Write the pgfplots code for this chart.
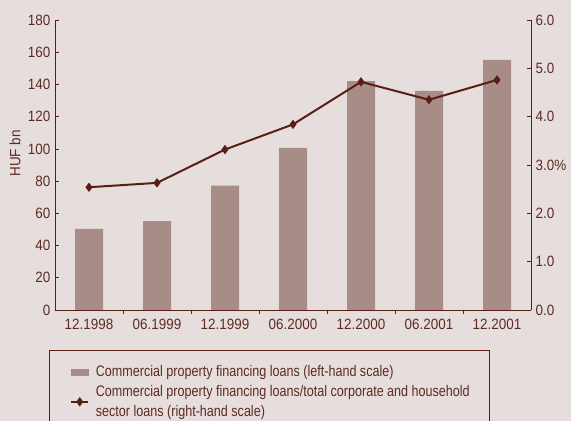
\documentclass[border=0pt]{standalone}
\usepackage{fontspec}
\setmainfont{Liberation Sans}[FakeStretch=0.9]
\newfontfamily\legfont{Liberation Sans}[FakeStretch=0.82]
\usepackage{pgfplots}
\pgfplotsset{compat=1.18}
\definecolor{bg}{HTML}{E6DEDD}
\definecolor{barc}{HTML}{A88C87}
\definecolor{linec}{HTML}{5B1E16}
\definecolor{txt}{HTML}{5E2B23}

\pgfplotsset{
  common/.style={
    at={(41.25pt,83.25pt)}, anchor=south west, scale only axis,
    width=357pt, height=217.5pt,
    xmin=-0.5, xmax=6.5,
    axis line style={linec, line width=0.6pt},
    tick style={linec, line width=0.5pt},
    major tick length=3pt, minor tick length=3pt,
    tick label style={text=txt, font=\fontsize{11.2}{13}\selectfont},
    /pgf/number format/assume math mode=true,
  },
  barlegend/.style={legend image code/.code={\fill[barc] (0pt,-2.25pt) rectangle (12.75pt,2.25pt);}},
  linelegend/.style={legend image code/.code={\draw[mark repeat=2,mark phase=2,##1] plot coordinates {(0pt,0pt)(6.4pt,0pt)(12.75pt,0pt)};}},
}

\begin{document}
\begin{tikzpicture}
\fill[bg] (0,0) rectangle (428.25pt,315.75pt);

\begin{axis}[common,
  ymin=0, ymax=180, ytick={0,20,...,180},
  axis x line*=bottom, axis y line*=left,
  xtick={0,...,6},
  xticklabels={12.1998,06.1999,12.1999,06.2000,12.2000,06.2001,12.2001},
  every major x tick/.style={draw=none},
  minor xtick={0.5,1.5,2.5,3.5,4.5,5.5},
  every minor x tick/.style={linec},
  ylabel={HUF bn},
  ylabel style={text=txt, font=\fontsize{11.2}{13}\selectfont, at={(axis description cs:-0.084,0.54)}, anchor=center},
  ybar, bar width=21pt,
]
\addplot[fill=barc, draw=none] coordinates {
  (0,50.3) (1,55.2) (2,77.2) (3,100.6) (4,142.1) (5,136.0) (6,155.2)
};
\end{axis}

\begin{axis}[common,
  ymin=0, ymax=6, ytick={0,1,...,6},
  yticklabels={0.0,1.0,2.0,3.0\%,4.0,5.0,6.0},
  axis y line*=right, axis x line=none,
  legend style={at={(axis description cs:0.023,-0.172)}, anchor=north west,
    draw=none, fill=none, text=txt, font=\legfont\fontsize{11.5}{15}\selectfont,
    cells={anchor=west, align=left}, row sep=1pt, column sep=3pt},
  legend cell align=left,
]
\addlegendimage{barlegend}
\addlegendentry{Commercial property financing loans (left-hand scale)}
\addplot[linec, line width=1.5pt, mark=diamond*, mark size=2.3pt, linelegend]
  coordinates {
  (0,2.54) (1,2.63) (2,3.32) (3,3.84) (4,4.72) (5,4.35) (6,4.76)
};
\addlegendentry{Commercial property financing loans/total corporate and household\\sector loans (right-hand scale)}
\end{axis}

\draw[linec, line width=0.6pt] (36.75pt,0pt) -- (36.75pt,53.25pt) -- (366.75pt,53.25pt) -- (366.75pt,0pt);

\pgfresetboundingbox
\path[use as bounding box] (0,0) rectangle (428.25pt,315.75pt);
\end{tikzpicture}
\end{document}
